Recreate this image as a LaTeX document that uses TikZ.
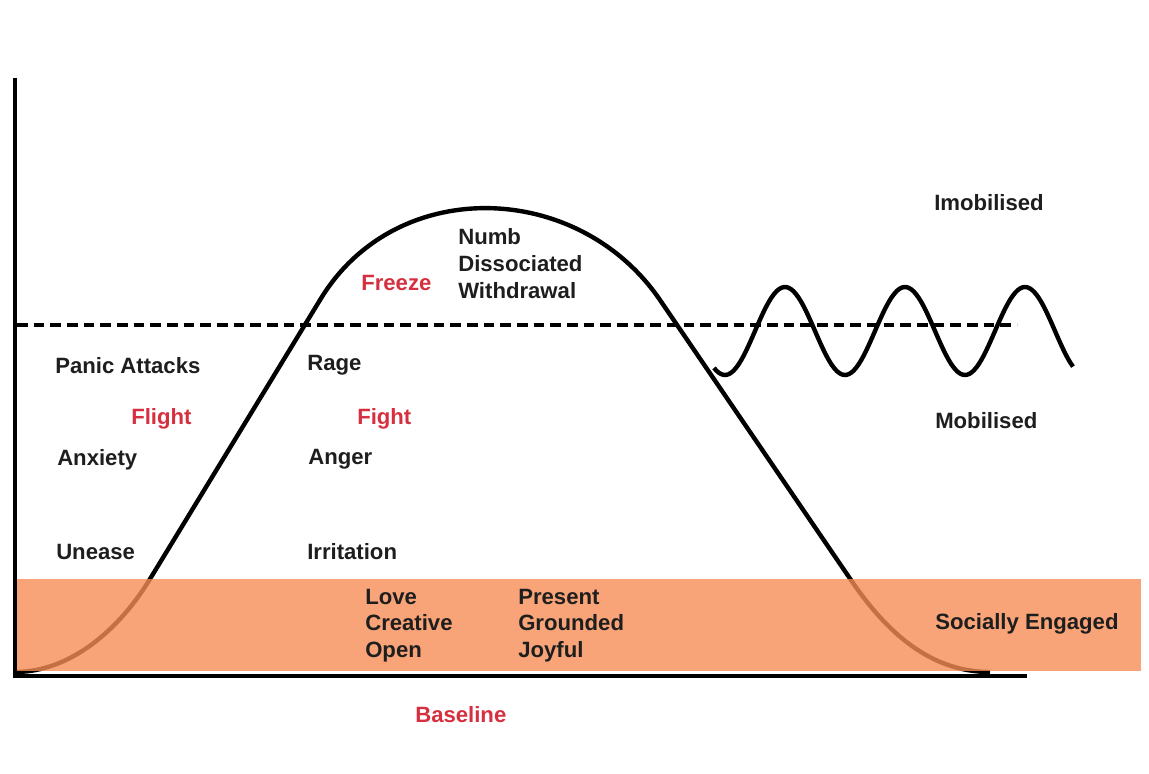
\documentclass[tikz,border=0pt]{standalone}
\usepackage{fontspec}
\setmainfont{Liberation Sans}
\definecolor{bandorange}{RGB}{246,141,86}
\definecolor{labelred}{RGB}{214,48,64}
\definecolor{textdark}{RGB}{30,30,30}
\begin{document}
\begin{tikzpicture}[x=0.75pt,y=-0.75pt,
  curve/.style={line width=3.3pt,black},
  axisline/.style={line width=3.6pt,black},
  midline/.style={line width=3pt,black,dash pattern=on 8pt off 4.5pt},
  band/.style={fill=bandorange,fill opacity=0.8,draw=none},
  lbl/.style={anchor=base west,inner sep=0pt,text=textdark,font=\bfseries\fontsize{16.6pt}{19pt}\selectfont},
  redlbl/.style={lbl,text=labelred}]
\useasboundingbox (0,0) rectangle (1149,774);
% bell curve
\draw[curve] (15,672) .. controls (70,672) and (119,630) .. (150,579) -- (320,300)
  .. controls (395,175) and (578,180) .. (660,300) -- (853,583)
  .. controls (887,632) and (930,672) .. (990,672);
% oscillation
\draw[curve] plot[domain=714:1073,samples=150,smooth] (\x,{331+44*cos(3*(\x-725))});
% dashed threshold
\coordinate (dl) at (17,325);
\coordinate (dr) at (1017,325);
\draw[midline] (dl) -- (dr);
% socially engaged band
\fill[band] (14,579) rectangle (1141,671);
% axes
\coordinate (o) at (15,676);
\coordinate (ytop) at (15,78);
\coordinate (xend) at (1027,676);
\draw[axisline] (ytop) -- (o) -- (xend);
% labels
\node[lbl] (imob) at (934,210) {Imobilised};
\node[lbl] (numb) at (458,244) {Numb};
\node[lbl] (diss) at (458,271) {Dissociated};
\node[lbl] (with) at (458,298) {Withdrawal};
\node[redlbl] (freeze) at (361,290) {Freeze};
\node[lbl] (panic) at (55,373) {Panic Attacks};
\node[lbl] (rage) at (307,370) {Rage};
\node[redlbl] (flight) at (131,424) {Flight};
\node[redlbl] (fight) at (357,424) {Fight};
\node[lbl] (anx) at (57,465) {Anxiety};
\node[lbl] (anger) at (308,464) {Anger};
\node[lbl] (mob) at (935,428) {Mobilised};
\node[lbl] (unease) at (56,559) {Unease};
\node[lbl] (irr) at (307,559) {Irritation};
\node[lbl] (love) at (365,604) {Love};
\node[lbl] (creat) at (365,630) {Creative};
\node[lbl] (open) at (365,657) {Open};
\node[lbl] (pres) at (518,604) {Present};
\node[lbl] (ground) at (518,630) {Grounded};
\node[lbl] (joy) at (518,657) {Joyful};
\node[lbl] (social) at (935,629) {Socially Engaged};
\node[redlbl] (base) at (415,722) {Baseline};
\end{tikzpicture}
\end{document}
